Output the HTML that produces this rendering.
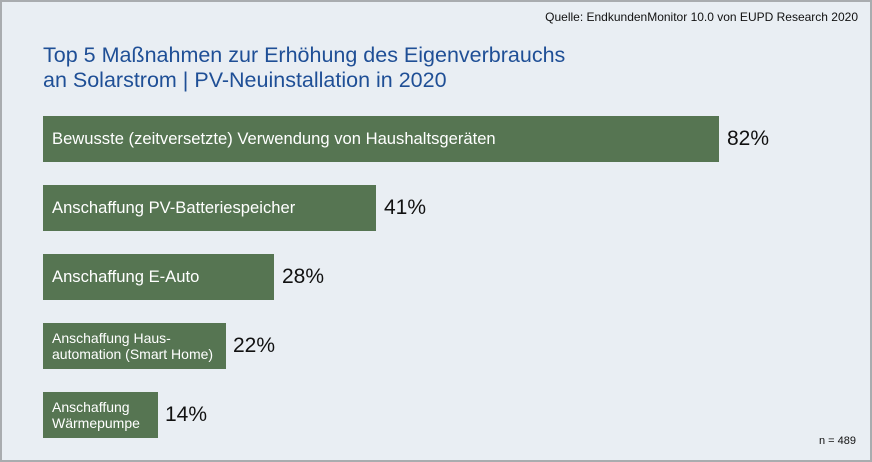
<!DOCTYPE html>
<html><head><meta charset="utf-8"><style>
body{margin:0;width:872px;height:462px;overflow:hidden;background:#fff;font-family:"Liberation Sans",sans-serif}
#c{position:absolute;left:0;top:0;width:868px;height:458px;border:2px solid #a9acaf;background:#e9eef3}
.t{position:absolute;color:#1f4f96;font-size:21.5px;line-height:25px;left:43px;top:43px}
.b{position:absolute;left:43px;background:#567552;color:#fff;font-size:16.6px;height:46px;display:flex;align-items:center;box-sizing:border-box;padding-left:9px}
.b.s{font-size:14px;line-height:16px}
.p{position:absolute;font-size:21px;color:#111;height:46px;display:flex;align-items:center}
</style></head><body><div id="c"></div>
<div style="position:absolute;right:14px;top:10px;font-size:12px;color:#111">Quelle: EndkundenMonitor 10.0 von EUPD Research 2020</div>
<div class="t">Top 5 Maßnahmen zur Erhöhung des Eigenverbrauchs<br>an Solarstrom | PV-Neuinstallation in 2020</div>
<div class="b" style="top:116px;width:676px">Bewusste (zeitversetzte) Verwendung von Haushaltsgeräten</div><div class="p" style="top:116px;left:727px">82%</div>
<div class="b" style="top:185px;width:333px">Anschaffung PV-Batteriespeicher</div><div class="p" style="top:185px;left:384px">41%</div>
<div class="b" style="top:254px;width:231px">Anschaffung E-Auto</div><div class="p" style="top:254px;left:282px">28%</div>
<div class="b s" style="top:323px;width:183px">Anschaffung Haus-<br>automation (Smart Home)</div><div class="p" style="top:323px;left:233px">22%</div>
<div class="b s" style="top:392px;width:115px">Anschaffung<br>Wärmepumpe</div><div class="p" style="top:392px;left:165px">14%</div>
<div style="position:absolute;right:16px;top:435px;font-size:11px;color:#111">n = 489</div>
</body></html>
